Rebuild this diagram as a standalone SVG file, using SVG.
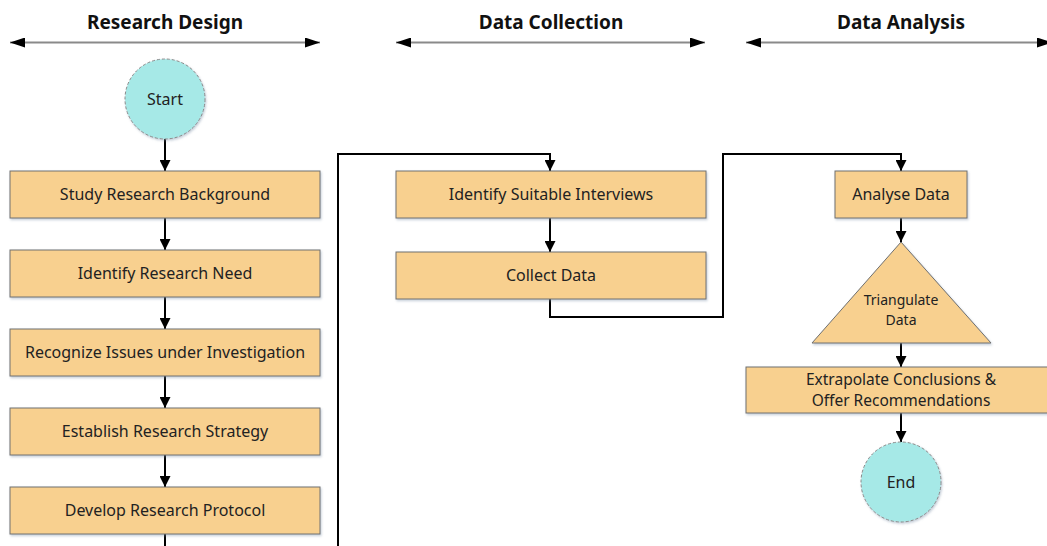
<svg xmlns="http://www.w3.org/2000/svg" width="1047" height="546" viewBox="0 0 1047 546">
  <defs>
    <marker id="arrow" markerUnits="userSpaceOnUse" markerWidth="11" markerHeight="11" refX="11" refY="5.5" orient="auto">
      <path d="M0,0 L11,5.5 L0,11 z" fill="#000"/>
    </marker>
    <marker id="span-end" markerUnits="userSpaceOnUse" markerWidth="15" markerHeight="10" refX="15" refY="5" orient="auto">
      <path d="M0,0 L15,5 L0,10 z" fill="#000"/>
    </marker>
    <marker id="span-start" markerUnits="userSpaceOnUse" markerWidth="15" markerHeight="10" refX="0" refY="5" orient="auto">
      <path d="M15,0 L0,5 L15,10 z" fill="#000"/>
    </marker>
    <filter id="shadow" x="-10%" y="-10%" width="120%" height="130%">
      <feDropShadow dx="1" dy="1.5" stdDeviation="1" flood-color="#7a8fa8" flood-opacity="0.45"/>
    </filter>
  </defs>
  <style>
    .header { font-family: "Noto Sans", "Open Sans", sans-serif; font-weight: bold; font-size: 19px; fill: #111; text-anchor: middle; }
    .span { stroke: #8a8a8a; stroke-width: 2; fill: none; marker-start: url(#span-start); marker-end: url(#span-end); }
    .box { fill: #f8d08f; stroke: #707070; stroke-width: 1; filter: url(#shadow); }
    .term { fill: #a6e9e7; stroke: #8a8a8a; stroke-width: 1; stroke-dasharray: 3 2; filter: url(#shadow); }
    .label { font-family: "Noto Sans", "Open Sans", sans-serif; font-size: 16px; fill: #222; text-anchor: middle; }
    .small { font-size: 14px; }
    .two-line { font-size: 15.5px; }
    .flow { stroke: #000; stroke-width: 2; fill: none; }
    .arrow { marker-end: url(#arrow); }
  </style>

  <rect width="1047" height="546" fill="#fff"/>

  <!-- phase headers -->
  <g id="phase-headers">
    <text class="header" x="165" y="29">Research Design</text>
    <text class="header" x="551" y="29">Data Collection</text>
    <text class="header" x="901" y="29">Data Analysis</text>
    <line class="span" x1="10" y1="42.5" x2="320" y2="42.5"/>
    <line class="span" x1="396" y1="42.5" x2="705" y2="42.5"/>
    <line class="span" x1="746" y1="42.5" x2="1052" y2="42.5"/>
  </g>

  <!-- connectors -->
  <g id="connectors">
    <line class="flow arrow" x1="165" y1="139" x2="165" y2="171"/>
    <line class="flow arrow" x1="165" y1="218" x2="165" y2="250"/>
    <line class="flow arrow" x1="165" y1="297" x2="165" y2="329"/>
    <line class="flow arrow" x1="165" y1="376" x2="165" y2="408"/>
    <line class="flow arrow" x1="165" y1="455" x2="165" y2="487"/>
    <line class="flow" x1="165" y1="534" x2="165" y2="550"/>
    <polyline class="flow arrow" points="338,550 338,154 550,154 550,171"/>
    <line class="flow arrow" x1="550" y1="218" x2="550" y2="252"/>
    <polyline class="flow arrow" points="550,299 550,317 723,317 723,154 901,154 901,171"/>
    <line class="flow arrow" x1="901" y1="218" x2="901" y2="242"/>
    <line class="flow arrow" x1="901" y1="343" x2="901" y2="367"/>
    <line class="flow arrow" x1="901" y1="413" x2="901" y2="442"/>
  </g>

  <!-- research design -->
  <g id="start">
    <circle class="term" cx="165" cy="99" r="40"/>
    <text class="label" x="165" y="105">Start</text>
  </g>
  <g id="study-background">
    <rect class="box" x="10" y="171" width="310" height="47"/>
    <text class="label" x="165" y="200">Study Research Background</text>
  </g>
  <g id="identify-need">
    <rect class="box" x="10" y="250" width="310" height="47"/>
    <text class="label" x="165" y="279">Identify Research Need</text>
  </g>
  <g id="recognize-issues">
    <rect class="box" x="10" y="329" width="310" height="47"/>
    <text class="label" x="165" y="358">Recognize Issues under Investigation</text>
  </g>
  <g id="establish-strategy">
    <rect class="box" x="10" y="408" width="310" height="47"/>
    <text class="label" x="165" y="437">Establish Research Strategy</text>
  </g>
  <g id="develop-protocol">
    <rect class="box" x="10" y="487" width="310" height="47"/>
    <text class="label" x="165" y="516">Develop Research Protocol</text>
  </g>

  <!-- data collection -->
  <g id="identify-interviews">
    <rect class="box" x="396" y="171" width="310" height="47"/>
    <text class="label" x="551" y="200">Identify Suitable Interviews</text>
  </g>
  <g id="collect-data">
    <rect class="box" x="396" y="252" width="310" height="47"/>
    <text class="label" x="551" y="281">Collect Data</text>
  </g>

  <!-- data analysis -->
  <g id="analyse-data">
    <rect class="box" x="835" y="171" width="132" height="47"/>
    <text class="label" x="901" y="200">Analyse Data</text>
  </g>
  <g id="triangulate-data">
    <polygon class="box" points="901,242 991,343 812,343"/>
    <text class="label small" x="901" y="305">Triangulate</text>
    <text class="label small" x="901" y="325">Data</text>
  </g>
  <g id="extrapolate-conclusions">
    <rect class="box" x="746" y="367" width="310" height="46"/>
    <text class="label two-line" x="901" y="384.5">Extrapolate Conclusions &amp;</text>
    <text class="label two-line" x="901" y="405.8">Offer Recommendations</text>
  </g>
  <g id="end">
    <circle class="term" cx="901" cy="482" r="40"/>
    <text class="label" x="901" y="488">End</text>
  </g>
</svg>
